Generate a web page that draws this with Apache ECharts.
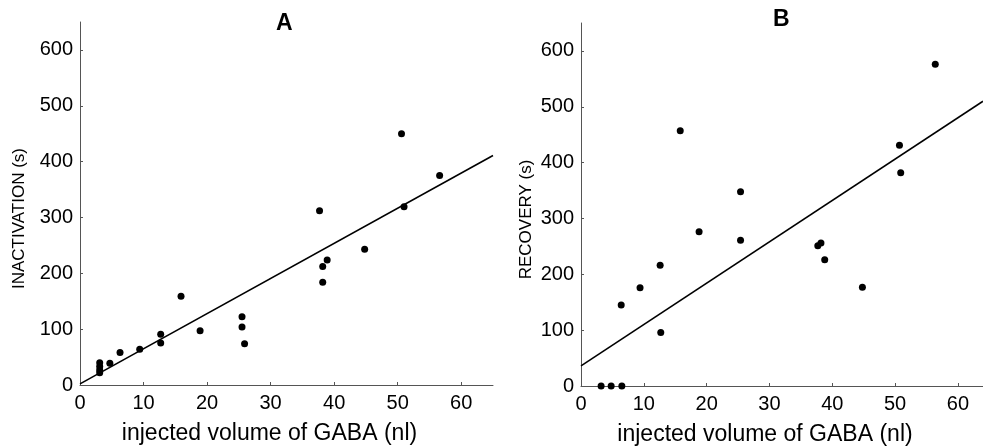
<!DOCTYPE html>
<html>
<head>
<meta charset="utf-8">
<script src="https://cdn.jsdelivr.net/npm/echarts@6/dist/echarts.min.js"></script>
<style>
  html, body { margin: 0; padding: 0; background: #fff; }
  #chart { width: 983px; height: 448px; }
</style>
</head>
<body>
<div id="chart"></div>
<script>
// panel A: inactivation vs injected volume
var volA = [3.1, 3.1, 3.1, 3.1, 4.7, 6.3, 9.4, 12.7, 12.7, 15.9, 18.9, 25.5, 25.5, 25.9, 37.7, 38.2, 38.2, 38.9, 44.8, 50.6, 51.0, 56.6];
var inactA = [40, 33, 27, 22, 39, 58, 64, 91, 75, 159, 97, 122, 104, 74, 312, 212, 184, 224, 243, 450, 319, 375];
var fitAx = [0, 65];
var fitAy = [2, 411];

// panel B: recovery vs injected volume
var volB = [3.2, 4.8, 6.5, 6.4, 9.4, 12.6, 12.7, 15.8, 18.8, 25.4, 25.4, 37.7, 38.2, 38.8, 44.8, 50.7, 50.9, 56.4];
var recovB = [0, 0, 0, 145, 176, 216, 96, 457, 276, 348, 261, 251, 256, 226, 177, 431, 382, 576];
var fitBx = [0, 64];
var fitBy = [36, 510];

var xTicks = [0, 10, 20, 30, 40, 50, 60];
var yTicks = [0, 100, 200, 300, 400, 500, 600];

function pairs(xs, ys) {
    var out = [];
    for (var i = 0; i < xs.length; i++) {
        out.push([xs[i], ys[i]]);
    }
    return out;
}

var font = 'Liberation Sans, Arial, sans-serif';
var axisGrey = '#555';

function makeX(idx, max) {
    return {
        type: 'value',
        gridIndex: idx,
        min: 0,
        max: max,
        interval: 10,
        name: 'injected volume of GABA (nl)',
        nameLocation: 'middle',
        nameGap: 37,
        nameTextStyle: { fontFamily: font, fontSize: 23, color: '#000', padding: [0, 34, 0, 0] },
        axisLine: { lineStyle: { color: axisGrey, width: 1 } },
        axisTick: { inside: true, length: 3, lineStyle: { color: axisGrey } },
        axisLabel: {
            fontFamily: font, fontSize: 20, color: '#000', margin: 8,
            showMaxLabel: false,
            formatter: function (v) { return xTicks.indexOf(v) >= 0 ? String(v) : ''; }
        },
        splitLine: { show: false }
    };
}

function makeY(idx, name, gap) {
    return {
        type: 'value',
        gridIndex: idx,
        min: 0,
        max: 650,
        interval: 100,
        name: name,
        nameLocation: 'middle',
        nameGap: gap,
        nameTextStyle: { fontFamily: font, fontSize: 17, color: '#000', padding: [0, 30, 0, 0] },
        axisLine: { lineStyle: { color: axisGrey, width: 1 } },
        axisTick: { inside: true, length: 3, lineStyle: { color: axisGrey } },
        axisLabel: {
            fontFamily: font, fontSize: 20, color: '#000', margin: 7,
            showMaxLabel: false,
            formatter: function (v) { return yTicks.indexOf(v) >= 0 ? String(v) : ''; }
        },
        splitLine: { show: false }
    };
}

var myChart = echarts.init(document.getElementById('chart'));
var option = {
    backgroundColor: '#fff',
    animation: false,
    title: [
        { text: 'A', left: 271, top: 7, textStyle: { fontFamily: font, fontSize: 23, fontWeight: 'bold', color: '#000' } },
        { text: 'B', left: 768, top: 3, textStyle: { fontFamily: font, fontSize: 23, fontWeight: 'bold', color: '#000' } }
    ],
    grid: [
        { left: 80, top: 22, width: 413, height: 363, outerBoundsMode: 'none' },
        { left: 581, top: 23, width: 402, height: 363, outerBoundsMode: 'none' }
    ],
    xAxis: [makeX(0, 65), makeX(1, 64)],
    yAxis: [makeY(0, 'INACTIVATION (s)', 52), makeY(1, 'RECOVERY (s)', 46)],
    series: [
        {
            type: 'line', xAxisIndex: 0, yAxisIndex: 0,
            data: pairs(fitAx, fitAy), showSymbol: false,
            lineStyle: { color: '#000', width: 1.6 }
        },
        {
            type: 'scatter', xAxisIndex: 0, yAxisIndex: 0,
            data: pairs(volA, inactA), symbolSize: 7,
            itemStyle: { color: '#000', opacity: 1 }
        },
        {
            type: 'line', xAxisIndex: 1, yAxisIndex: 1,
            data: pairs(fitBx, fitBy), showSymbol: false,
            lineStyle: { color: '#000', width: 1.6 }
        },
        {
            type: 'scatter', xAxisIndex: 1, yAxisIndex: 1,
            data: pairs(volB, recovB), symbolSize: 7,
            clip: false,
            itemStyle: { color: '#000', opacity: 1 }
        }
    ]
};
myChart.setOption(option);
</script>
</body>
</html>
